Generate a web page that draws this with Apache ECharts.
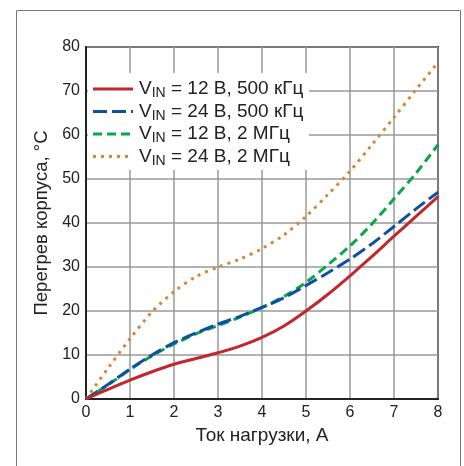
<!DOCTYPE html>
<html><head><meta charset="utf-8">
<script src="https://cdn.jsdelivr.net/npm/echarts@6/dist/echarts.min.js"></script>
<style>html,body{margin:0;padding:0;background:#fff}#c{width:464px;height:466px}</style>
</head><body><div id="c"></div>
<script>
const xs = [0,0.5,1,1.5,2,2.5,3,3.5,4,4.5,5,5.5,6,6.5,7,7.5,8];
const red12_500 = [0,2.2,4.3,6.2,7.9,9.2,10.5,12,14,16.6,20,23.8,28,32.4,37,41.5,46];
const blue24_500 = [0,3.3,6.8,10,12.8,15,17,18.8,20.8,23,25.8,28.7,31.8,35.3,39.2,43.2,47];
const green12_2M = [0,3.2,6.7,9.8,12.5,14.8,16.7,18.6,20.8,23.3,26.5,30.5,34.8,39.8,45.5,51.3,57.8];
const orange24_2M = [0,7,13.7,19.8,24.4,27.8,30,31.8,34.2,37.3,41.5,46.5,51.8,57.8,64,70.3,76.5];
const legendRest = [' = 12 В, 500 кГц',' = 24 В, 500 кГц',' = 12 В, 2 МГц',' = 24 В, 2 МГц'];
const names = legendRest.map(r=>'VIN'+r);
const colors = ['#c1272d','#0d4fa3','#0aa64a','#d0893a'];
const dashes = ['solid',[14,5],[9,5],[3,5]];
const vals = [red12_500, blue24_500, green12_2M, orange24_2M];
const font = '"Liberation Sans", Arial, sans-serif';
const chart = echarts.init(document.getElementById('c'), null, {renderer:'canvas'});
const legendItems = [];
legendRest.forEach((r,i)=>{
  const y = 89 + i*22.5;
  legendItems.push({type:'line',shape:{x1:93,y1:y,x2:133,y2:y},style:{stroke:colors[i],lineWidth:3,lineDash:dashes[i]==='solid'?null:dashes[i]},z:100});
  legendItems.push({type:'text',x:139,y:y,style:{
    text:'V{s|IN}{t|'+r+'}',fill:'#222',fontSize:19,fontFamily:font,verticalAlign:'middle',align:'left',
    rich:{s:{fontSize:14,fontFamily:font,fill:'#222',padding:[9,0,0,0]},t:{fontSize:19,fontFamily:font,fill:'#222'}}},z:100});
});
chart.setOption({
  animation:false,
  graphic:[
    {type:'rect',shape:{x:16.5,y:10.5,width:444,height:470},style:{fill:'none',stroke:'#777',lineWidth:1},z:-10},
    {type:'rect',shape:{x:88,y:73,width:221,height:97},style:{fill:'#fff'},z:99}
  ].concat(legendItems),
  grid:{left:86,right:26,top:47,bottom:67,show:true,borderColor:'#222',borderWidth:2,backgroundColor:'transparent'},
  xAxis:{type:'value',min:0,max:8,interval:1,
    name:'Ток нагрузки, А',nameLocation:'middle',nameGap:24,
    nameTextStyle:{fontSize:19,color:'#222',fontFamily:font},
    axisLine:{lineStyle:{color:'#222',width:2}},axisTick:{show:false},
    axisLabel:{fontSize:16,color:'#222',fontFamily:font,margin:6},
    splitLine:{lineStyle:{color:'#999',width:1.5}}},
  yAxis:{type:'value',min:0,max:80,interval:10,
    name:'Перегрев корпуса, °С',nameLocation:'middle',nameGap:35,nameRotate:90,
    nameTextStyle:{fontSize:18.5,color:'#222',fontFamily:font},
    axisLine:{show:true,lineStyle:{color:'#222',width:2}},axisTick:{show:false},
    axisLabel:{fontSize:16,color:'#222',fontFamily:font,margin:6},
    splitLine:{lineStyle:{color:'#999',width:1.5}}},
  series:vals.map((v,i)=>({type:'line',name:names[i],data:xs.map((x,j)=>[x,v[j]]),
    smooth:0.3,symbol:'none',showSymbol:false,z:10-i,
    lineStyle:{color:colors[i],width:3,type:dashes[i]},itemStyle:{color:colors[i]}}))
});
</script></body></html>
